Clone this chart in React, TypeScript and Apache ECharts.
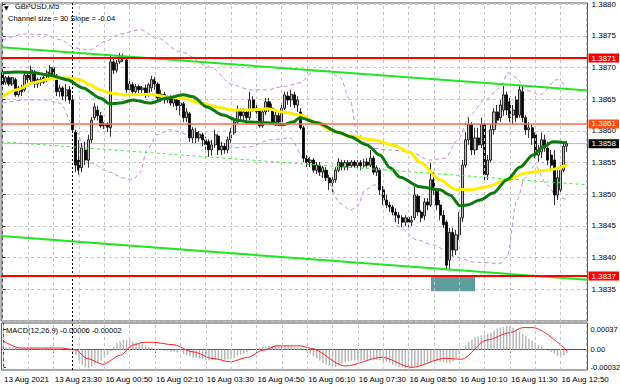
import React, { useEffect, useRef } from 'react';
import * as echarts from 'echarts';

// ---------- data ----------
// candles: [open, close, low, high]
const candles: number[][] = [
  [1.38692,1.38673,1.38668,1.38696],[1.38677,1.38684,1.38673,1.38687],[1.38684,1.38674,1.38671,1.38687],[1.38674,1.38684,1.38671,1.38685],[1.38681,1.38657,1.38654,1.38684],
  [1.38657,1.38668,1.38654,1.38671],[1.38668,1.38662,1.38655,1.38673],[1.38665,1.38688,1.38662,1.38692],[1.38688,1.38681,1.38676,1.38693],[1.38677,1.38696,1.38673,1.38703],
  [1.38693,1.38674,1.38668,1.38696],[1.38674,1.38681,1.38668,1.38684],[1.38681,1.38676,1.38671,1.38685],[1.38684,1.38677,1.38674,1.38687],[1.38681,1.38693,1.38677,1.38696],
  [1.38690,1.38700,1.38687,1.38704],[1.38700,1.38687,1.38684,1.38703],[1.38687,1.38662,1.38655,1.38690],[1.38662,1.38668,1.38654,1.38673],[1.38668,1.38655,1.38649,1.38671],
  [1.38655,1.38665,1.38647,1.38674],[1.38665,1.38649,1.38643,1.38671],[1.38649,1.38602,1.38598,1.38657],[1.38598,1.38546,1.38535,1.38602],[1.38554,1.38538,1.38531,1.38586],
  [1.38542,1.38573,1.38535,1.38581],[1.38570,1.38554,1.38546,1.38583],[1.38554,1.38586,1.38542,1.38594],[1.38586,1.38617,1.38581,1.38622],[1.38621,1.38638,1.38617,1.38644],
  [1.38633,1.38624,1.38617,1.38640],[1.38624,1.38608,1.38605,1.38630],[1.38608,1.38611,1.38603,1.38614],[1.38611,1.38606,1.38598,1.38614],[1.38605,1.38709,1.38591,1.38720],
  [1.38709,1.38696,1.38690,1.38715],[1.38696,1.38707,1.38692,1.38712],[1.38709,1.38717,1.38706,1.38723],[1.38717,1.38714,1.38709,1.38722],[1.38712,1.38665,1.38660,1.38717],
  [1.38665,1.38674,1.38660,1.38681],[1.38673,1.38662,1.38657,1.38677],[1.38662,1.38670,1.38658,1.38674],[1.38670,1.38665,1.38660,1.38673],[1.38665,1.38668,1.38660,1.38671],
  [1.38668,1.38657,1.38652,1.38673],[1.38657,1.38673,1.38654,1.38676],[1.38668,1.38681,1.38662,1.38687],[1.38681,1.38674,1.38665,1.38685],[1.38674,1.38652,1.38649,1.38677],
  [1.38655,1.38658,1.38646,1.38665],[1.38658,1.38649,1.38643,1.38662],[1.38649,1.38654,1.38644,1.38657],[1.38654,1.38644,1.38640,1.38657],[1.38644,1.38651,1.38638,1.38655],
  [1.38649,1.38640,1.38633,1.38652],[1.38640,1.38644,1.38625,1.38649],[1.38643,1.38621,1.38614,1.38646],[1.38621,1.38630,1.38614,1.38636],[1.38627,1.38589,1.38583,1.38630],
  [1.38589,1.38602,1.38581,1.38606],[1.38598,1.38589,1.38581,1.38605],[1.38589,1.38595,1.38583,1.38600],[1.38594,1.38586,1.38576,1.38597],[1.38586,1.38578,1.38570,1.38591],
  [1.38583,1.38570,1.38559,1.38587],[1.38570,1.38578,1.38561,1.38586],[1.38578,1.38594,1.38573,1.38602],[1.38592,1.38570,1.38562,1.38595],[1.38570,1.38576,1.38562,1.38583],
  [1.38576,1.38570,1.38564,1.38581],[1.38570,1.38586,1.38565,1.38591],[1.38586,1.38598,1.38581,1.38605],[1.38597,1.38614,1.38594,1.38621],[1.38614,1.38633,1.38611,1.38640],
  [1.38633,1.38624,1.38617,1.38636],[1.38624,1.38630,1.38614,1.38636],[1.38630,1.38621,1.38611,1.38633],[1.38621,1.38649,1.38617,1.38662],[1.38649,1.38636,1.38630,1.38655],
  [1.38636,1.38630,1.38621,1.38643],[1.38633,1.38608,1.38605,1.38636],[1.38608,1.38630,1.38605,1.38636],[1.38630,1.38646,1.38625,1.38652],[1.38646,1.38636,1.38630,1.38652],
  [1.38636,1.38614,1.38610,1.38643],[1.38614,1.38625,1.38608,1.38630],[1.38624,1.38614,1.38608,1.38630],[1.38614,1.38636,1.38611,1.38643],[1.38636,1.38657,1.38633,1.38662],
  [1.38655,1.38649,1.38641,1.38662],[1.38649,1.38658,1.38638,1.38665],[1.38657,1.38641,1.38636,1.38662],[1.38641,1.38649,1.38630,1.38655],[1.38630,1.38605,1.38602,1.38636],
  [1.38605,1.38557,1.38551,1.38608],[1.38557,1.38550,1.38543,1.38562],[1.38550,1.38554,1.38543,1.38559],[1.38554,1.38538,1.38534,1.38557],[1.38538,1.38546,1.38532,1.38551],
  [1.38546,1.38535,1.38529,1.38551],[1.38535,1.38542,1.38526,1.38545],[1.38538,1.38526,1.38521,1.38543],[1.38526,1.38518,1.38507,1.38531],[1.38518,1.38523,1.38502,1.38531],
  [1.38523,1.38538,1.38518,1.38543],[1.38538,1.38551,1.38535,1.38557],[1.38550,1.38543,1.38538,1.38554],[1.38543,1.38550,1.38538,1.38554],[1.38550,1.38545,1.38538,1.38554],
  [1.38545,1.38551,1.38542,1.38554],[1.38551,1.38545,1.38542,1.38554],[1.38545,1.38550,1.38540,1.38554],[1.38550,1.38545,1.38538,1.38554],[1.38545,1.38551,1.38542,1.38556],
  [1.38551,1.38546,1.38542,1.38557],[1.38546,1.38557,1.38543,1.38570],[1.38557,1.38535,1.38531,1.38561],[1.38535,1.38542,1.38529,1.38546],[1.38538,1.38507,1.38499,1.38542],
  [1.38507,1.38491,1.38483,1.38513],[1.38491,1.38483,1.38478,1.38499],[1.38483,1.38480,1.38472,1.38488],[1.38480,1.38472,1.38467,1.38483],[1.38472,1.38467,1.38456,1.38478],
  [1.38467,1.38463,1.38453,1.38472],[1.38463,1.38456,1.38448,1.38467],[1.38456,1.38463,1.38450,1.38467],[1.38463,1.38456,1.38448,1.38466],[1.38456,1.38459,1.38450,1.38466],
  [1.38463,1.38499,1.38459,1.38512],[1.38497,1.38472,1.38466,1.38500],[1.38472,1.38463,1.38456,1.38475],[1.38466,1.38488,1.38459,1.38494],[1.38488,1.38483,1.38475,1.38494],
  [1.38483,1.38523,1.38480,1.38550],[1.38523,1.38507,1.38499,1.38535],[1.38507,1.38483,1.38475,1.38510],[1.38483,1.38467,1.38459,1.38491],[1.38467,1.38452,1.38447,1.38475],
  [1.38456,1.38388,1.38380,1.38459],[1.38396,1.38440,1.38380,1.38447],[1.38440,1.38412,1.38402,1.38447],[1.38412,1.38436,1.38404,1.38444],[1.38436,1.38463,1.38428,1.38472],
  [1.38463,1.38546,1.38456,1.38554],[1.38546,1.38586,1.38542,1.38598],[1.38586,1.38610,1.38578,1.38621],[1.38610,1.38570,1.38562,1.38614],[1.38570,1.38589,1.38562,1.38605],
  [1.38589,1.38578,1.38570,1.38605],[1.38578,1.38610,1.38573,1.38621],[1.38610,1.38531,1.38518,1.38617],[1.38531,1.38554,1.38523,1.38562],[1.38554,1.38602,1.38550,1.38610],
  [1.38602,1.38630,1.38594,1.38636],[1.38630,1.38617,1.38610,1.38641],[1.38621,1.38641,1.38614,1.38649],[1.38633,1.38657,1.38624,1.38671],[1.38657,1.38633,1.38625,1.38662],
  [1.38646,1.38621,1.38614,1.38652],[1.38625,1.38633,1.38610,1.38641],[1.38649,1.38621,1.38614,1.38655],[1.38625,1.38665,1.38621,1.38673],[1.38662,1.38621,1.38614,1.38671],
  [1.38621,1.38602,1.38594,1.38625],[1.38602,1.38605,1.38589,1.38614],[1.38605,1.38589,1.38578,1.38610],[1.38594,1.38562,1.38557,1.38598],[1.38562,1.38570,1.38551,1.38578],
  [1.38567,1.38586,1.38557,1.38598],[1.38586,1.38573,1.38567,1.38594],[1.38573,1.38554,1.38546,1.38583],[1.38562,1.38546,1.38538,1.38570],[1.38554,1.38499,1.38483,1.38570],
  [1.38499,1.38526,1.38491,1.38538],[1.38507,1.38538,1.38499,1.38546],[1.38538,1.38576,1.38535,1.38583],[1.38576,1.38580,1.38567,1.38584],
];

// moving averages and envelope: [bar position, price]
const yellowMA: number[][] = [
  [0,1.38654],[4.5,1.38665],[9.6,1.38676],[14.9,1.38682],[20.3,1.38684],[24.4,1.38681],[27.5,1.38673],[30.7,1.38665],[33.8,1.3866],[39.2,1.38657],
  [46.5,1.38658],[51.8,1.38654],[56.9,1.38652],[62.2,1.38644],[67.6,1.38638],[72.6,1.38633],[78,1.38633],[83.4,1.38635],[88.4,1.3863],[93.8,1.38625],
  [99.1,1.38613],[103.2,1.38602],[109.6,1.38592],[116.8,1.38586],[123.1,1.38578],[128.5,1.38566],[131.6,1.38551],[137.9,1.38523],[142.7,1.38508],[147.4,1.38507],
  [152.8,1.38512],[159.1,1.38523],[165.4,1.38534],[171.7,1.38538],[178,1.38546],
];
const greenMA: number[][] = [
  [0,1.38692],[4.5,1.38693],[9.6,1.38692],[14.9,1.38688],[20.3,1.38681],[25.3,1.38668],[30.7,1.38652],[33.8,1.38643],[37,1.38644],[41.1,1.38649],
  [46.5,1.38644],[51.8,1.38652],[56.9,1.38657],[60,1.38654],[64.4,1.38638],[69.5,1.38625],[73.9,1.38617],[78,1.38614],[83.4,1.38613],[88.4,1.3861],
  [91.6,1.38614],[93.8,1.38621],[99.1,1.38613],[106.4,1.38597],[109.6,1.38591],[114.9,1.38578],[119,1.38562],[122.2,1.38542],[125.3,1.38527],[131.6,1.38512],
  [137.9,1.38507],[141.1,1.38499],[144.3,1.38482],[146.5,1.38483],[150.6,1.38491],[154.7,1.38502],[159.1,1.38523],[163.2,1.38543],[167.3,1.38562],[170.5,1.38575],
  [173.6,1.38583],[178,1.38581],
];
const bandUpper: number[][] = [
  [0,1.38744],[7,1.38753],[13.3,1.38752],[18.1,1.38744],[22.8,1.38731],[27.5,1.38728],[32.3,1.38741],[37,1.38753],[43.3,1.3876],[48.7,1.38747],
  [56,1.38725],[65.4,1.38701],[72.6,1.38673],[78,1.38665],[83.4,1.38665],[88.4,1.3867],[93.8,1.38676],[97.9,1.38693],[102.3,1.38696],[106.4,1.38685],
  [109.6,1.38649],[111.8,1.38597],[115.9,1.38573],[122.2,1.3857],[128.5,1.38567],[134.8,1.38554],[139.5,1.38557],[143.6,1.38586],[147.4,1.38625],[152.1,1.38649],
  [156.9,1.38668],[159.4,1.38692],[162.2,1.38684],[164.8,1.38665],[169.5,1.38657],[174.9,1.38681],[178,1.38668],
];
const bandLower: number[][] = [
  [0,1.38644],[7,1.38649],[13.3,1.38649],[18.1,1.38644],[22.2,1.3861],[27.5,1.3855],[33.8,1.38535],[37.9,1.38526],[41.1,1.38523],[43.3,1.38534],
  [45.5,1.3857],[48.7,1.38594],[52.8,1.38602],[59.1,1.38594],[65.4,1.38583],[71.7,1.38573],[78,1.38575],[84.3,1.38586],[90.6,1.38589],[95.4,1.38554],
  [102.3,1.38523],[106.4,1.38486],[109.6,1.38475],[111.8,1.3848],[114.3,1.38507],[117.4,1.38515],[120.6,1.38491],[125.3,1.38447],[130.7,1.38428],[135.7,1.3842],
  [143.3,1.38401],[148.4,1.38393],[156.9,1.38391],[159.1,1.38401],[162.2,1.38491],[164.8,1.38526],[167.9,1.38546],[171.7,1.38515],[174.9,1.38496],[178,1.38491],
];

// regression channel endpoints: [bar position, price]
const channelUpper: number[][] = [[-0.5, 1.38732], [184.5, 1.38664]];
const channelMiddle: number[][] = [[-0.5, 1.38583], [184.5, 1.38515]];
const channelLower: number[][] = [[-0.5, 1.38434], [184.5, 1.38365]];

// horizontal levels
const resistanceLevel = 1.38715;
const pivotLevel = 1.38611;
const supportLevel = 1.38371;
const currentPrice = 1.3858;
const levelTexts = ['1.3871', '1.3861', '1.3837', '1.3858'];

// highlighted support zone: bar positions and prices
const zoneBars = [135.1, 149.0];
const zonePrices = [1.38371, 1.38347];

// MACD
const macdHist: number[] = [
  0.00007,0.00006,0.00005,0.00004,0.00004,0.00003,0.00003,0.00003,0.00004,0.00004,0.00003,0.00003,0.00002,0.00002,0.00003,0.00003,
  0.00002,0.00001,0.00001,0,-0.00001,-0.00002,
  -0.00005,-0.0001,-0.0002,-0.00028,-0.00032,-0.00034,-0.00031,-0.00027,-0.00024,-0.0002,-0.00015,-0.0001,-0.00003,0.00005,
  0.00012,0.00015,0.00018,0.00018,0.00017,0.00015,0.00014,0.00012,0.0001,0.00008,0.00006,0.00004,0.00002,0.00001,
  -0.00001,-0.00002,-0.00003,-0.00004,-0.00004,-0.00005,-0.00005,-0.00008,-0.0001,-0.00012,
  -0.00014,-0.00015,-0.00016,-0.00017,-0.00018,-0.00019,-0.00019,-0.00018,-0.00018,-0.00019,
  -0.00018,-0.00017,-0.00016,-0.00014,-0.00011,-0.00009,-0.00007,-0.00004,-0.00002,0,
  0.00003,0.00004,0.00005,0.00006,0.00007,0.00007,0.00008,0.00008,0.00007,0.00007,
  0.00007,0.00006,0.00005,0.00004,0.00003,0.00001,-0.00003,-0.00007,-0.00012,-0.00016,
  -0.0002,-0.00024,-0.00027,-0.00029,-0.00031,-0.00031,-0.00029,-0.00025,-0.00022,-0.00021,
  -0.0002,-0.0002,-0.0002,-0.0002,-0.00019,-0.00019,-0.00018,-0.00018,-0.00018,-0.00019,
  -0.00021,-0.00022,-0.00024,-0.00027,-0.00029,-0.00031,-0.00032,-0.00034,-0.00034,-0.00033,
  -0.0003,-0.00029,-0.00028,-0.00026,-0.00025,-0.00023,-0.00021,-0.00021,-0.00022,-0.00023,
  -0.00024,-0.00024,-0.00021,-0.00015,-0.00008,0,0.00008,0.00014,0.00018,0.00022,
  0.00024,0.00026,0.00027,0.00029,0.00031,0.00035,0.00038,0.0004,0.00041,0.00043,
  0.00042,0.0004,0.00037,0.00033,0.00029,0.00025,0.0002,0.00016,0.00013,0.00008,
  0.00005,0.00002,-0.00002,-0.00004,-0.00007,-0.00011,-0.00012,-0.0001,-0.00006,
];
const macdSignal: number[][] = [
  [0,0.00016],[5.5,0.00003],[18.1,0.00003],[22.8,0],[26.6,-0.00016],[31.6,-0.000265],[37,-0.0001],[41.1,0.000085],[44.3,0.000134],[47.4,0.000134],
  [53.7,0.00009],[60,-0.00004],[66.3,-0.00016],[71.7,-0.00022],[77.1,-0.00014],[82.1,-0.00001],[86.5,0.00007],[93.8,0.00007],[96.9,0.00003],[108,-0.000296],
  [119.6,-0.000138],[129,-0.00032],[139.5,-0.000156],[144.8,-0.000174],[152.7,0.000176],[160,0.000308],[164.1,0.0004],[167.3,0.0004],[178,-0.00002],
];
const macdTicks = [-0.00032, 0, 0.00037];
const macdTickTexts = ['-0.00032', '0.00', '0.00037'];

// time axis
const tickLabels = [
  '13 Aug 2021', '13 Aug 23:30', '16 Aug 00:50', '16 Aug 02:10', '16 Aug 03:30', '16 Aug 04:50',
  '16 Aug 06:10', '16 Aug 07:30', '16 Aug 08:50', '16 Aug 10:10', '16 Aug 11:30', '16 Aug 12:50',
];
const TICK_STEP = 16;
const separatorBar = 22; // 16 Aug 00:00

// ---------- layout ----------
const N_SLOTS = 185;
const BAR_PX = 3.17;
const GRID_LEFT = 1.1;
const GRID_W = N_SLOTS * BAR_PX;
const MACD_TOP = 323;
const MACD_H = 47;
const MACD_MIN = -0.000368;
const MACD_MAX = 0.000484;
const FONT = 'Liberation Sans, Arial, sans-serif';

function buildOption(): any {
  const cats = Array.from({ length: N_SLOTS }, (_, i) => String(i));
  const gridBars: number[] = [];
  for (let i = 0; i < N_SLOTS; i += TICK_STEP / 2) gridBars.push(i);
  const isTick = (i: number) => i % TICK_STEP === 0 && i / TICK_STEP < tickLabels.length;

  const gridLineStyle = { color: '#c6c6c6', type: [3, 3], width: 1 };
  const vGridMarks = () => ({
    silent: true,
    symbol: ['none', 'none'],
    label: { show: false },
    emphasis: { disabled: true },
    animation: false,
    data: [
      ...gridBars.map((b) => ({ xAxis: b, lineStyle: gridLineStyle })),
      { xAxis: separatorBar, lineStyle: { color: '#000', type: [2, 2], width: 1 } },
    ],
  });

  const lineCommon = {
    type: 'line',
    xAxisIndex: 2,
    yAxisIndex: 0,
    showSymbol: false,
    symbol: 'none',
    silent: true,
    animation: false,
  };

  const levelSeries = (value: number, text: string, lineColor: string, width: number, bg: string, z: number) => ({
    ...lineCommon,
    z,
    clip: false,
    data: [[-0.5, value], [N_SLOTS - 0.5, value]],
    lineStyle: { color: lineColor, width },
    endLabel: {
      show: true,
      formatter: () => text,
      distance: 1,
      color: '#fff',
      backgroundColor: bg,
      padding: [0, 3, 0, 3],
      lineHeight: 9,
      fontSize: 8,
      fontFamily: FONT,
    },
  });

  // MACD scale labels as plain texts beside the MACD pane's right edge (vertical place from the pane's scale)
  const macdY = (v: number) => MACD_TOP + ((MACD_MAX - v) / (MACD_MAX - MACD_MIN)) * MACD_H;
  const macdLabelTexts = macdTicks.map((v, k) => ({
    type: 'text', z: 100, silent: true,
    x: GRID_LEFT + GRID_W + 3, y: macdY(v),
    style: { text: macdTickTexts[k], fontSize: 7.5, fill: '#000', fontFamily: FONT, verticalAlign: 'middle', align: 'left' },
  }));

  return {
    animation: false,
    backgroundColor: '#ffffff',
    textStyle: { fontFamily: FONT },
    grid: [
      { left: GRID_LEFT, top: 3, width: GRID_W, height: 318, show: true, borderColor: '#555', borderWidth: 1, backgroundColor: '#fff' },
      { left: GRID_LEFT, top: MACD_TOP, width: GRID_W, height: MACD_H, show: true, borderColor: '#555', borderWidth: 1, backgroundColor: '#fff' },
    ],
    xAxis: [
      { type: 'category', gridIndex: 0, data: cats, boundaryGap: true, axisLine: { show: false }, axisTick: { show: false }, axisLabel: { show: false }, splitLine: { show: false } },
      {
        type: 'category', gridIndex: 1, data: cats, boundaryGap: true,
        axisLine: { show: true, lineStyle: { color: '#555' } },
        axisTick: { show: true, alignWithLabel: true, length: 3, interval: (i: number) => isTick(i), lineStyle: { color: '#333' } },
        axisLabel: {
          show: true, interval: (i: number) => isTick(i), align: 'left', margin: 5, padding: [0, 0, 0, 1], lineHeight: 8,
          fontSize: 8, color: '#000', fontFamily: FONT,
          formatter: (_v: string, idx: number) => (isTick(idx) ? tickLabels[idx / TICK_STEP] : ''),
        },
        splitLine: { show: false },
      },
      { type: 'value', gridIndex: 0, min: -0.5, max: N_SLOTS - 0.5, show: false },
      { type: 'value', gridIndex: 1, min: -0.5, max: N_SLOTS - 0.5, show: false },
    ],
    yAxis: [
      {
        type: 'value', gridIndex: 0, position: 'right', min: 1.383, max: 1.38802, interval: 0.0005,
        axisLine: { show: true, lineStyle: { color: '#555' } },
        axisTick: { show: true, length: 3, lineStyle: { color: '#333' } },
        axisLabel: {
          show: true, fontSize: 8, color: '#000', margin: 4, fontFamily: FONT,
          showMinLabel: false, showMaxLabel: false,
          formatter: (v: number) => {
            const k = Math.round(v / 0.0005);
            if (Math.abs(v - k * 0.0005) > 1e-7 || v < 1.3834) return '';
            return v.toFixed(4);
          },
        },
        splitLine: { show: true, lineStyle: gridLineStyle },
      },
      {
        type: 'value', gridIndex: 1, position: 'right', min: MACD_MIN, max: MACD_MAX,
        axisLine: { show: true, lineStyle: { color: '#555' } },
        axisTick: { show: true, length: 3, customValues: macdTicks, lineStyle: { color: '#333' } },
        axisLabel: { show: false },
        splitLine: { show: false },
      },
    ],
    graphic: [
      { type: 'text', left: 4, top: 4, silent: true, style: { text: '▼', fontSize: 6, fill: '#000', fontFamily: 'DejaVu Sans' } },
      { type: 'text', left: 15, top: 2.5, silent: true, style: { text: 'GBPUSD,M5', fontSize: 7.5, fill: '#000', fontFamily: FONT } },
      { type: 'text', left: 8, top: 14, silent: true, style: { text: 'Channel size = 30 Slope = -0.04', fontSize: 7.5, fill: '#000', fontFamily: FONT } },
      { type: 'text', left: 6, top: 326, silent: true, style: { text: 'MACD(12,26,9) -0.00006 -0.00002', fontSize: 7.5, fill: '#000', fontFamily: FONT } },
      ...macdLabelTexts,
    ],
    series: [
      // vertical grid lines + day separator (main pane), support zone
      {
        ...lineCommon, z: 1, data: [], markLine: vGridMarks(),
        markArea: {
          silent: true, emphasis: { disabled: true },
          itemStyle: { color: '#5f9c9c', opacity: 1 },
          data: [[{ xAxis: zoneBars[0], yAxis: zonePrices[0] }, { xAxis: zoneBars[1], yAxis: zonePrices[1] }]],
        },
      },
      // current price line (behind candles)
      levelSeries(currentPrice, levelTexts[3], '#b8b8b8', 1, '#000000', 2),
      // envelope bands
      { ...lineCommon, z: 3, smooth: 0.3, smoothMonotone: 'x', data: bandUpper, lineStyle: { color: '#c08ae2', width: 1, type: [4, 3] } },
      { ...lineCommon, z: 3, smooth: 0.3, smoothMonotone: 'x', data: bandLower, lineStyle: { color: '#c08ae2', width: 1, type: [4, 3] } },
      // candles
      {
        type: 'candlestick', xAxisIndex: 0, yAxisIndex: 0, z: 4, silent: true, animation: false,
        barWidth: 2.6,
        data: candles,
        itemStyle: { color: '#bdbdbd', color0: '#000000', borderColor: '#000000', borderColor0: '#000000', borderWidth: 0.8 },
      },
      // moving averages
      { ...lineCommon, z: 5, smooth: 0.3, smoothMonotone: 'x', data: yellowMA, lineStyle: { color: '#ffee00', width: 3 } },
      { ...lineCommon, z: 5, smooth: 0.3, smoothMonotone: 'x', data: greenMA, lineStyle: { color: '#0b7a0b', width: 3 } },
      // regression channel
      { ...lineCommon, z: 6, data: channelUpper, lineStyle: { color: '#22e622', width: 2 } },
      { ...lineCommon, z: 6, data: channelLower, lineStyle: { color: '#22e622', width: 2 } },
      { ...lineCommon, z: 6, data: channelMiddle, lineStyle: { color: '#3cf03c', width: 1, type: [3, 3] } },
      // key levels
      levelSeries(pivotLevel, levelTexts[1], '#ff6a4a', 1.5, '#ff4a12', 7),
      levelSeries(resistanceLevel, levelTexts[0], '#ff0000', 2, '#ff0000', 7),
      levelSeries(supportLevel, levelTexts[2], '#ff0000', 2, '#ff0000', 7),
      // MACD pane
      { type: 'line', xAxisIndex: 3, yAxisIndex: 1, z: 1, data: [], silent: true, animation: false, markLine: vGridMarks() },
      {
        type: 'bar', xAxisIndex: 1, yAxisIndex: 1, z: 2, silent: true, animation: false,
        barWidth: 1.4, data: macdHist, itemStyle: { color: '#b4b4b4' },
      },
      {
        type: 'line', xAxisIndex: 3, yAxisIndex: 1, z: 3, silent: true, animation: false,
        showSymbol: false, symbol: 'none', smooth: 0.3, smoothMonotone: 'x',
        data: macdSignal, lineStyle: { color: '#ff2020', width: 1 },
      },
    ],
  };
}

export default function App() {
  const ref = useRef<HTMLDivElement>(null);
  useEffect(() => {
    if (!ref.current) return;
    const chart = echarts.init(ref.current, null, { renderer: 'svg' });
    chart.setOption(buildOption());
    return () => chart.dispose();
  }, []);
  return (
    <div
      ref={ref}
      style={{ position: 'absolute', left: 0, top: 0, width: 620, height: 388, background: '#fff' }}
    />
  );
}
